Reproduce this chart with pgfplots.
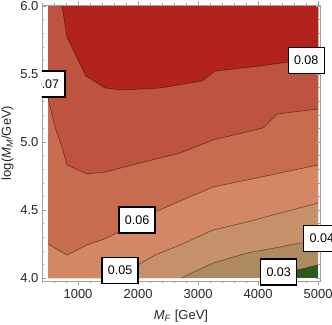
\documentclass[border=0pt]{standalone}
\usepackage{fontspec}
\setmainfont{Liberation Sans}
\usepackage{pgfplots}
\pgfplotsset{compat=1.18}

\definecolor{c8}{HTML}{B3231E}
\definecolor{c7}{HTML}{BE533F}
\definecolor{c6}{HTML}{C86C50}
\definecolor{c5}{HTML}{D48765}
\definecolor{c4}{HTML}{C4916A}
\definecolor{c3}{HTML}{AE8B5E}
\definecolor{c2}{HTML}{2B5A1E}
\definecolor{framegray}{HTML}{A0A0A0}

\tikzset{
  lbl/.style={draw=black, fill=white, line width=1.3pt, minimum width=36pt,
    minimum height=26pt, inner sep=0pt, font=\fontsize{12.5}{14}\selectfont},
  cline/.style={black, opacity=0.55, line width=0.5pt},
}

\begin{document}
\begin{tikzpicture}
\begin{axis}[
  scale only axis, width=278pt, height=276pt,
  xmin=400, xmax=5030, ymin=3.978, ymax=6.007,
  xtick={1000,2000,3000,4000,5000},
  ytick={4,4.5,5,5.5,6},
  minor xtick={400,600,...,5000},
  minor ytick={4.1,4.2,...,5.95},
  major tick length=4pt, minor tick length=2pt,
  tick style={framegray, line width=0.5pt},
  axis line style={framegray, line width=0.6pt},
  xtick align=outside, ytick align=inside,
  scaled ticks=false,
  xticklabel style={/pgf/number format/1000 sep={}, yshift=-1pt},
  yticklabel style={/pgf/number format/fixed, /pgf/number format/fixed zerofill,
    /pgf/number format/precision=1},
  /pgf/number format/assume math mode=true,
  tick label style={font=\fontsize{13}{15}\selectfont, text=black!85},
  label style={font=\fontsize{13}{15}\selectfont, text=black!85},
  xlabel style={yshift=-4pt},
  xlabel={\textit{M}\textsubscript{\textit{F}} [GeV]},
  ylabel={log(\textit{M}\textsubscript{\textit{M}}/GeV)},
  axis on top,
]
% bands, stacked from the lowest level up
\addplot[fill=c2, draw=none] coordinates {(500,4) (5000,4) (5000,6) (500,6)} -- cycle;
\addplot[fill=c3, draw=none] coordinates {(500,4) (4283,4) (4650,4.059) (5000,4.096) (5000,6) (500,6)} -- cycle;
\addplot[fill=c4, draw=none] coordinates {(500,4) (2717,4) (3250,4.110) (3817,4.184) (4367,4.228) (4700,4.257) (5000,4.279) (5000,6) (500,6)} -- cycle;
\addplot[fill=c5, draw=none] coordinates {(500,4) (1617,4) (2000,4.096) (2283,4.169) (2700,4.243) (3250,4.353) (3817,4.412) (4367,4.478) (5000,4.551) (5000,6) (500,6)} -- cycle;
\addplot[fill=c6, draw=none] coordinates {(500,4.250) (817,4.169) (1150,4.243) (1483,4.294) (1867,4.382) (2283,4.485) (2700,4.566) (3250,4.669) (3817,4.721) (4367,4.772) (5000,4.831) (5000,6) (500,6)} -- cycle;
\addplot[fill=c7, draw=none] coordinates {(500,5.324) (617,5.110) (733,4.963) (817,4.831) (1150,4.765) (1450,4.779) (2033,4.846) (2700,4.919) (3250,5.015) (4083,5.103) (4317,5.206) (5000,5.243) (5000,6) (500,6)} -- cycle;
\addplot[fill=c8, draw=none] coordinates {(733,6) (817,5.772) (1133,5.485) (1450,5.397) (1750,5.382) (2367,5.397) (3067,5.449) (3283,5.522) (4033,5.559) (4500,5.588) (5000,5.603) (5000,6)} -- cycle;

% contour lines
\addplot[cline] coordinates {(4283,4) (4650,4.059) (5000,4.096)};
\addplot[cline] coordinates {(2717,4) (3250,4.110) (3817,4.184) (4367,4.228) (4700,4.257) (5000,4.279)};
\addplot[cline] coordinates {(1617,4) (2000,4.096) (2283,4.169) (2700,4.243) (3250,4.353) (3817,4.412) (4367,4.478) (5000,4.551)};
\addplot[cline] coordinates {(500,4.250) (817,4.169) (1150,4.243) (1483,4.294) (1867,4.382) (2283,4.485) (2700,4.566) (3250,4.669) (3817,4.721) (4367,4.772) (5000,4.831)};
\addplot[cline] coordinates {(500,5.324) (617,5.110) (733,4.963) (817,4.831) (1150,4.765) (1450,4.779) (2033,4.846) (2700,4.919) (3250,5.015) (4083,5.103) (4317,5.206) (5000,5.243)};
\addplot[cline] coordinates {(733,6) (817,5.772) (1133,5.485) (1450,5.397) (1750,5.382) (2367,5.397) (3067,5.449) (3283,5.522) (4033,5.559) (4500,5.588) (5000,5.603)};

% anchor points for the contour labels
\coordinate (l7) at (axis cs:483,5.426);
\coordinate (l8) at (axis cs:4800,5.599);
\coordinate (l6) at (axis cs:1983,4.426);
\coordinate (l5) at (axis cs:1700,4.055);
\coordinate (l3) at (axis cs:4342,4.044);
\coordinate (l4) at (axis cs:5060,4.29);
\end{axis}

% labels sit above the frame
\begin{scope}
  \clip (current axis.south west) rectangle (current axis.north east);
  \node[lbl] at (l7) {0.07};
\end{scope}
\node[lbl] at (l8) {0.08};
\node[lbl] at (l6) {0.06};
\node[lbl] at (l5) {0.05};
\node[lbl] at (l3) {0.03};
\node[lbl, overlay] at (l4) {0.04};

% page = reference margins round the frame
\pgfresetboundingbox
\path[use as bounding box] ([xshift=-42pt,yshift=-43pt]current axis.south west)
  rectangle ([xshift=12pt,yshift=5pt]current axis.north east);
\end{tikzpicture}
\end{document}
